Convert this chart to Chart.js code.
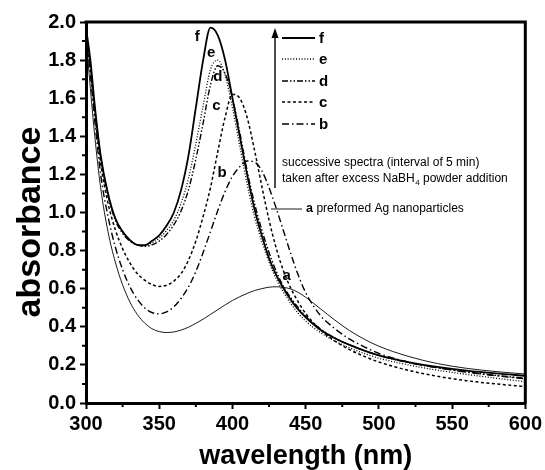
<!DOCTYPE html>
<html>
<head>
<meta charset="utf-8">
<script src="https://cdn.jsdelivr.net/npm/chart.js@4"></script>
<style>
  html, body { margin: 0; padding: 0; background: #fff; }
  #wrap { width: 545px; height: 470px; }
</style>
</head>
<body>
<div id="wrap"><canvas id="chart"></canvas></div>
<script>
// wavelength grid (nm) shared by all spectra
const wavelengths = [300,303,306,310,315,320,325,330,335,340,345,350,355,360,365,370,375,380,385,390,395,400,405,410,415,420,425,430,435,440,445,450,460,470,480,490,500,520,540,560,580,600];

// absorbance
const absA = [1.92,1.65,1.40,1.13,0.90,0.74,0.62,0.53,0.465,0.42,0.39,0.375,0.37,0.373,0.383,0.398,0.418,0.44,0.465,0.49,0.515,0.538,0.558,0.575,0.59,0.60,0.608,0.61,0.607,0.598,0.58,0.555,0.495,0.435,0.38,0.335,0.298,0.245,0.207,0.182,0.165,0.152];
const absB = [1.95,1.72,1.48,1.20,0.98,0.82,0.70,0.61,0.545,0.50,0.475,0.468,0.478,0.505,0.55,0.61,0.69,0.79,0.90,1.01,1.11,1.19,1.24,1.27,1.265,1.22,1.13,1.02,0.90,0.78,0.67,0.58,0.46,0.39,0.335,0.295,0.26,0.215,0.185,0.162,0.143,0.127];
const absC = [1.95,1.75,1.52,1.26,1.05,0.91,0.81,0.735,0.68,0.645,0.622,0.612,0.618,0.64,0.68,0.75,0.85,0.98,1.13,1.32,1.50,1.62,1.60,1.50,1.33,1.14,0.96,0.81,0.69,0.60,0.53,0.47,0.385,0.325,0.28,0.245,0.215,0.172,0.14,0.117,0.10,0.086];
const absD = [1.95,1.77,1.54,1.29,1.09,0.96,0.89,0.85,0.83,0.822,0.83,0.85,0.885,0.935,1.01,1.12,1.28,1.47,1.67,1.77,1.73,1.60,1.42,1.22,1.05,0.91,0.79,0.69,0.61,0.55,0.50,0.455,0.39,0.34,0.305,0.275,0.25,0.212,0.185,0.163,0.145,0.13];
const absE = [1.95,1.78,1.55,1.30,1.10,0.97,0.90,0.855,0.83,0.825,0.84,0.865,0.905,0.96,1.05,1.18,1.36,1.56,1.75,1.80,1.72,1.55,1.35,1.15,0.98,0.85,0.74,0.65,0.58,0.52,0.47,0.43,0.37,0.325,0.29,0.26,0.235,0.20,0.172,0.15,0.13,0.112];
const absF = [1.97,1.80,1.56,1.30,1.10,0.97,0.90,0.855,0.83,0.828,0.85,0.88,0.93,1.00,1.12,1.30,1.55,1.80,1.97,1.93,1.80,1.60,1.40,1.20,1.02,0.88,0.76,0.67,0.60,0.54,0.49,0.45,0.385,0.34,0.305,0.275,0.25,0.215,0.19,0.17,0.155,0.143];

const seriesNames = ["a", "b", "c", "d", "e", "f"];
const xMajorTicks = [300, 350, 400, 450, 500, 550, 600];
const xMinorTicks = [325, 375, 425, 475, 525, 575];
const yMajorTicks = [0, 0.2, 0.4, 0.6, 0.8, 1.0, 1.2, 1.4, 1.6, 1.8, 2.0];
const yMinorTicks = [0.1, 0.3, 0.5, 0.7, 0.9, 1.1, 1.3, 1.5, 1.7, 1.9];

// where the letters sit on the plot (wavelength, absorbance)
const labelWl  = [437, 393, 389, 390, 385.5, 376];
const labelAbs = [0.665, 1.21, 1.56, 1.71, 1.84, 1.92];

const FONT = "'Liberation Sans', Arial, Helvetica, sans-serif";

const styles = {
  a: { width: 0.9, dash: [] },
  b: { width: 1.4, dash: [7, 3, 1.5, 3] },
  c: { width: 1.5, dash: [3, 2.5] },
  d: { width: 1.4, dash: [6, 2, 1.5, 2, 1.5, 2] },
  e: { width: 1.3, dash: [1, 1.8] },
  f: { width: 1.8, dash: [] }
};

const allSeries = [absA, absB, absC, absD, absE, absF];

const datasets = seriesNames.map((name, i) => ({
  label: name,
  data: wavelengths.map((w, j) => ({ x: w, y: allSeries[i][j] })),
  borderColor: "#000",
  borderWidth: styles[name].width,
  borderDash: styles[name].dash,
  pointRadius: 0,
  fill: false,
  cubicInterpolationMode: "monotone"
}));

const extras = {
  id: "extras",
  afterDraw(chart) {
    const ctx = chart.ctx;
    const { left, right, top, bottom } = chart.chartArea;
    const xs = chart.scales.x, ys = chart.scales.y;
    ctx.save();

    // top and right frame
    ctx.strokeStyle = "#000";
    ctx.lineWidth = 3;
    ctx.beginPath();
    ctx.moveTo(left - 1.5, top);
    ctx.lineTo(right, top);
    ctx.lineTo(right, bottom + 1.5);
    ctx.stroke();

    // minor ticks
    ctx.lineWidth = 2;
    ctx.beginPath();
    xMinorTicks.forEach(v => {
      const px = xs.getPixelForValue(v);
      ctx.moveTo(px, bottom);
      ctx.lineTo(px, bottom + 4);
    });
    yMinorTicks.forEach(v => {
      const py = ys.getPixelForValue(v);
      ctx.moveTo(left, py);
      ctx.lineTo(left - 4, py);
    });
    ctx.stroke();

    // y axis title
    ctx.fillStyle = "#000";
    ctx.save();
    ctx.translate(31, 222);
    ctx.rotate(-Math.PI / 2);
    ctx.font = "bold 34px " + FONT;
    ctx.textAlign = "center";
    ctx.textBaseline = "middle";
    ctx.fillText("absorbance", 0, 0);
    ctx.restore();

    // letters on curves
    ctx.font = "bold 15px " + FONT;
    ctx.textAlign = "center";
    ctx.textBaseline = "middle";
    seriesNames.forEach((n, i) => {
      ctx.fillText(n, xs.getPixelForValue(labelWl[i]), ys.getPixelForValue(labelAbs[i]));
    });

    // legend
    const lx = 282, lw = 33;
    const rows = ["f", "e", "d", "c", "b"];
    const rowY = [38, 59, 81, 102, 124];
    rows.forEach((n, i) => {
      ctx.lineWidth = styles[n].width;
      ctx.setLineDash(styles[n].dash);
      ctx.beginPath();
      ctx.moveTo(lx, rowY[i]);
      ctx.lineTo(lx + lw, rowY[i]);
      ctx.stroke();
      ctx.setLineDash([]);
      ctx.font = "bold 15px " + FONT;
      ctx.textAlign = "left";
      ctx.fillText(n, lx + lw + 4, rowY[i] + 1);
    });

    // arrow
    const ax = 275;
    ctx.lineWidth = 1.4;
    ctx.beginPath();
    ctx.moveTo(ax, 188);
    ctx.lineTo(ax, 36);
    ctx.stroke();
    ctx.beginPath();
    ctx.moveTo(ax, 28);
    ctx.lineTo(ax - 3.5, 38);
    ctx.lineTo(ax + 3.5, 38);
    ctx.closePath();
    ctx.fill();

    // notes
    ctx.font = "12px " + FONT;
    ctx.textAlign = "left";
    ctx.fillText("successive spectra (interval of 5 min)", 282, 163);
    let tx = 282;
    const s1 = "taken after excess NaBH";
    ctx.fillText(s1, tx, 179);
    tx += ctx.measureText(s1).width;
    ctx.font = "8px " + FONT;
    ctx.fillText("4", tx + 0.5, 183);
    tx += ctx.measureText("4").width + 0.5;
    ctx.font = "12px " + FONT;
    ctx.fillText(" powder addition", tx, 179);

    ctx.lineWidth = 0.9;
    ctx.beginPath();
    ctx.moveTo(271, 209);
    ctx.lineTo(302, 209);
    ctx.stroke();
    ctx.font = "bold 12.5px " + FONT;
    ctx.fillText("a", 306, 209);
    const aw = ctx.measureText("a ").width;
    ctx.font = "12px " + FONT;
    ctx.fillText("preformed Ag nanoparticles", 306 + aw, 209);

    ctx.restore();
  }
};

new Chart(document.getElementById("chart"), {
  type: "line",
  data: { datasets },
  options: {
    responsive: true,
    maintainAspectRatio: false,
    animation: false,
    devicePixelRatio: 1,
    layout: { padding: { top: 22, right: 17, left: 0, bottom: 0 } },
    plugins: { legend: { display: false }, tooltip: { enabled: false } },
    scales: {
      x: {
        type: "linear",
        min: 300,
        max: 600,
        afterFit(s) { s.height = 67; },
        afterBuildTicks(s) { s.ticks = xMajorTicks.map(v => ({ value: v })); },
        border: { display: true, width: 3, color: "#000" },
        grid: { drawOnChartArea: false, drawTicks: true, tickLength: 6, tickWidth: 2, color: "#000" },
        ticks: { color: "#000", padding: 3, maxRotation: 0, font: { family: FONT, size: 20, weight: "bold" } },
        title: { display: true, text: "wavelength (nm)", color: "#000", padding: 0,
                 font: { family: FONT, size: 27, weight: "bold", lineHeight: 1 } }
      },
      y: {
        min: 0,
        max: 2,
        afterFit(s) { s.width = 86; },
        afterBuildTicks(s) { s.ticks = yMajorTicks.map(v => ({ value: v })); },
        border: { display: true, width: 3, color: "#000" },
        grid: { drawOnChartArea: false, drawTicks: true, tickLength: 6, tickWidth: 2, color: "#000" },
        ticks: { color: "#000", padding: 4, callback: v => v.toFixed(1),
                 font: { family: FONT, size: 20, weight: "bold" } },
        title: { display: false }
      }
    }
  },
  plugins: [extras]
});
</script>
</body>
</html>
